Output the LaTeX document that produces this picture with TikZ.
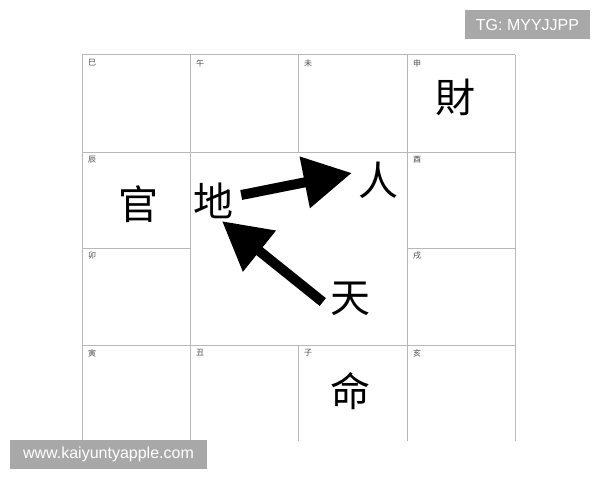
\documentclass[tikz,border=0pt]{standalone}
\usepackage{fontspec}
\setmainfont{Liberation Sans}
\newfontfamily\cjk{Noto Sans CJK SC}
\usetikzlibrary{arrows.meta}

\tikzset{
  big/.style={font=\cjk\fontsize{40}{40}\selectfont,inner sep=0pt},
  branch/.style={font=\cjk\fontsize{8}{8}\selectfont,text=black!70,inner sep=0pt},
  gridline/.style={draw=black!28,line width=0.9pt},
  fat/.style={line width=10pt,-{Triangle[length=48pt,width=50pt]}},
  wbox/.style={fill=black!34,text=white,inner sep=0pt,font=\fontsize{16}{16}\selectfont,minimum height=29pt}
}

\begin{document}
\begin{tikzpicture}[x=1pt,y=-1pt]
\useasboundingbox (0,0) rectangle (600,480);
%Grid
\draw[gridline] (82,54.5) -- (515,54.5);
\draw[gridline] (82,152) -- (515,152);
\draw[gridline] (82,248) -- (190,248);
\draw[gridline] (407,248) -- (515,248);
\draw[gridline] (82,345) -- (515,345);
\draw[gridline] (82,54.5) -- (82,441);
\draw[gridline] (190,54.5) -- (190,441);
\draw[gridline] (298,54.5) -- (298,152);
\draw[gridline] (298,345) -- (298,441);
\draw[gridline] (407,54.5) -- (407,441);
\draw[gridline] (515,54.5) -- (515,441);
%Branches
\node[branch] (si) at (92,63) {巳};
\node[branch] (wu) at (200,63) {午};
\node[branch] (wei) at (308,63) {未};
\node[branch] (shen) at (417,63) {申};
\node[branch] (chen) at (92,160) {辰};
\node[branch] (you) at (417,160) {酉};
\node[branch] (mao) at (92,256) {卯};
\node[branch] (xu) at (417,256) {戌};
\node[branch] (yin) at (92,353) {寅};
\node[branch] (chou) at (200,353) {丑};
\node[branch] (zi) at (308,353) {子};
\node[branch] (hai) at (417,353) {亥};
%Words
\node[big] (cai) at (455,97) {財};
\node[big] (guan) at (138,204) {官};
\node[big] (di) at (213,201) {地};
\node[big] (ren) at (378,180) {人};
\node[big] (tian) at (350,299) {天};
\node[big] (ming) at (350,391) {命};
%Arrows
\draw[fat] ([shift={(8pt,6pt)}]di.east) -- ([shift={(-6pt,7pt)}]ren.west);
\draw[fat] ([shift={(-7pt,-3pt)}]tian.west) -- ([shift={(9pt,-2pt)}]di.south);
%Marks
\node[wbox,minimum width=125pt] (tg) at (527.5,24.5) {TG: MYYJJPP};
\node[wbox,minimum width=197pt] (site) at (108.5,454.5) {www.kaiyuntyapple.com};
\end{tikzpicture}
\end{document}
